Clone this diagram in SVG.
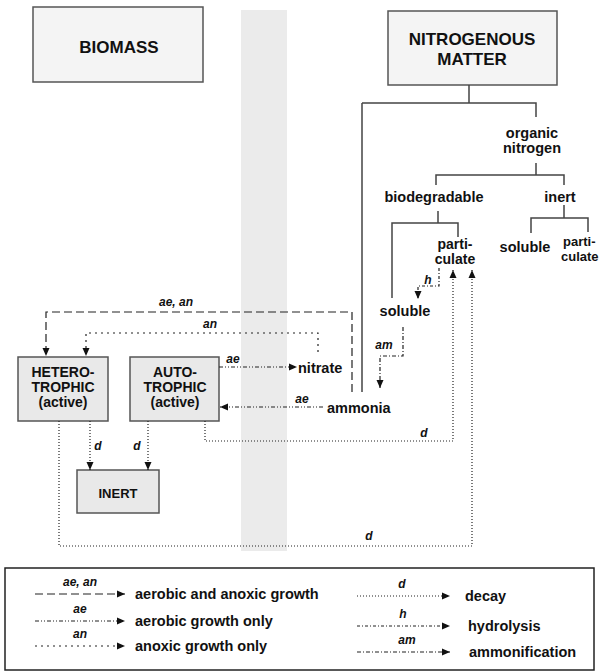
<svg xmlns="http://www.w3.org/2000/svg" width="599" height="672" viewBox="0 0 599 672">
<defs>
<marker id="ah" viewBox="0 0 8 8" refX="8" refY="4" markerWidth="8" markerHeight="8" orient="auto" markerUnits="userSpaceOnUse"><path d="M0,0.5 L8,4 L0,7.5 z" fill="#111"/></marker>
<style>
.box{fill:#f4f4f4;stroke:#555;stroke-width:1.5}
.box2{fill:#e9e9e9;stroke:#555;stroke-width:1.5}
.title{font-family:"Liberation Sans",Arial,sans-serif;font-weight:bold;font-size:17px;fill:#111;text-anchor:middle}
.btxt{font-family:"Liberation Sans",Arial,sans-serif;font-weight:bold;font-size:14px;fill:#111;text-anchor:middle}
.t{font-family:"Liberation Sans",Arial,sans-serif;font-weight:bold;font-size:14.5px;fill:#111}
.tc{text-anchor:middle}
.lab{font-family:"Liberation Sans",Arial,sans-serif;font-weight:bold;font-style:italic;font-size:12px;fill:#111;text-anchor:middle}
.tree{stroke:#444;stroke-width:1.5;fill:none}
.c{fill:none;stroke:#222;stroke-width:1.2}
.aean{stroke-dasharray:8 4}
.ae{stroke-dasharray:4 2 1 2 1 2}
.an{stroke-dasharray:2 4}
.d{stroke-dasharray:1 2}
.h{stroke-dasharray:3 2 1 2}
.am{stroke-dasharray:4 2 1 2}
</style>
</defs>
<rect x="241" y="10" width="46" height="541" fill="#ebebeb"/>

<g id="biomass"><rect class="box" x="33" y="7" width="170" height="75"/><text class="title" x="119" y="53">BIOMASS</text></g>
<g id="nitrogenous"><rect class="box" x="388" y="11" width="169" height="74"/><text class="title" x="472" y="45">NITROGENOUS</text><text class="title" x="472" y="65">MATTER</text></g>
<g id="hetero"><rect class="box2" x="18" y="357" width="90" height="64"/><text class="btxt" x="63" y="377">HETERO-</text><text class="btxt" x="63" y="392">TROPHIC</text><text class="btxt" x="63" y="407">(active)</text></g>
<g id="auto"><rect class="box2" x="130" y="357" width="89" height="64"/><text class="btxt" x="175" y="377">AUTO-</text><text class="btxt" x="175" y="392">TROPHIC</text><text class="btxt" x="175" y="407">(active)</text></g>
<g id="inert"><rect class="box2" x="77" y="470" width="82" height="43"/><text class="btxt" x="118" y="498" style="font-size:13px">INERT</text></g>

<g id="organic"><text class="t tc" x="532" y="138">organic</text><text class="t tc" x="532" y="153">nitrogen</text></g>
<g id="biodegradable"><text class="t tc" x="434" y="202">biodegradable</text></g>
<g id="inert-n"><text class="t tc" x="560" y="202">inert</text></g>
<g id="particulate"><text class="t tc" x="455" y="249" style="font-size:14px">parti-</text><text class="t tc" x="455" y="264" style="font-size:14px">culate</text></g>
<g id="soluble-b"><text class="t tc" x="405" y="316">soluble</text></g>
<g id="soluble-i"><text class="t tc" x="525" y="252">soluble</text></g>
<g id="particulate-i"><text class="t" x="563" y="246" style="font-size:13px">parti-</text><text class="t" x="561" y="261" style="font-size:13px">culate</text></g>
<g id="nitrate"><text class="t" x="298" y="373">nitrate</text></g>
<g id="ammonia"><text class="t" x="327" y="413">ammonia</text></g>

<g id="connectors">
<path class="tree" d="M469,85V103M362,103H536V117M362,103V392M536,163V175M436,185V175H564V185M438,211V223M392,298V223H458V237M564,205V218M531,233V218H588V232"/>
<path class="c aean" d="M352,392V312H46V356" marker-end="url(#ah)"/>
<path class="c an" d="M318,352V333H86V356" marker-end="url(#ah)"/>
<path class="c ae" d="M219,367H297" marker-end="url(#ah)"/>
<path class="c ae" d="M323,407H220" marker-end="url(#ah)"/>
<path class="c am" d="M403,327V356H380V388" marker-end="url(#ah)"/>
<path class="c h" d="M439,268V286H418V299" marker-end="url(#ah)"/>
<path class="c d" d="M205,421V441H453V270" marker-end="url(#ah)"/>
<path class="c d" d="M59,421V546H472V270" marker-end="url(#ah)"/>
<path class="c d" d="M90,421V470" marker-end="url(#ah)"/>
<path class="c d" d="M148,421V470" marker-end="url(#ah)"/>
<text class="lab" x="176" y="306">ae, an</text>
<text class="lab" x="210" y="328">an</text>
<text class="lab" x="233" y="363">ae</text>
<text class="lab" x="302" y="403">ae</text>
<text class="lab" x="384" y="349">am</text>
<text class="lab" x="428" y="284">h</text>
<text class="lab" x="424" y="437">d</text>
<text class="lab" x="369" y="540">d</text>
<text class="lab" x="98" y="450">d</text>
<text class="lab" x="137" y="450">d</text>
</g>

<g id="legend">
<rect x="5" y="568" width="589" height="102" fill="#fff" stroke="#222" stroke-width="1.5"/>
<path class="c aean" d="M35,594H125" marker-end="url(#ah)"/>
<text class="lab" x="80" y="586">ae, an</text>
<text class="t" x="135" y="599">aerobic and anoxic growth</text>
<path class="c ae" d="M35,621H125" marker-end="url(#ah)"/>
<text class="lab" x="80" y="613">ae</text>
<text class="t" x="135" y="626">aerobic growth only</text>
<path class="c an" d="M35,646H125" marker-end="url(#ah)"/>
<text class="lab" x="80" y="638">an</text>
<text class="t" x="135" y="651">anoxic growth only</text>
<path class="c d" d="M357,596H450" marker-end="url(#ah)"/>
<text class="lab" x="402" y="588">d</text>
<text class="t" x="465" y="601">decay</text>
<path class="c h" d="M357,626H450" marker-end="url(#ah)"/>
<text class="lab" x="403" y="618">h</text>
<text class="t" x="468" y="631">hydrolysis</text>
<path class="c am" d="M357,652H450" marker-end="url(#ah)"/>
<text class="lab" x="407" y="644">am</text>
<text class="t" x="469" y="657">ammonification</text>
</g>
</svg>
